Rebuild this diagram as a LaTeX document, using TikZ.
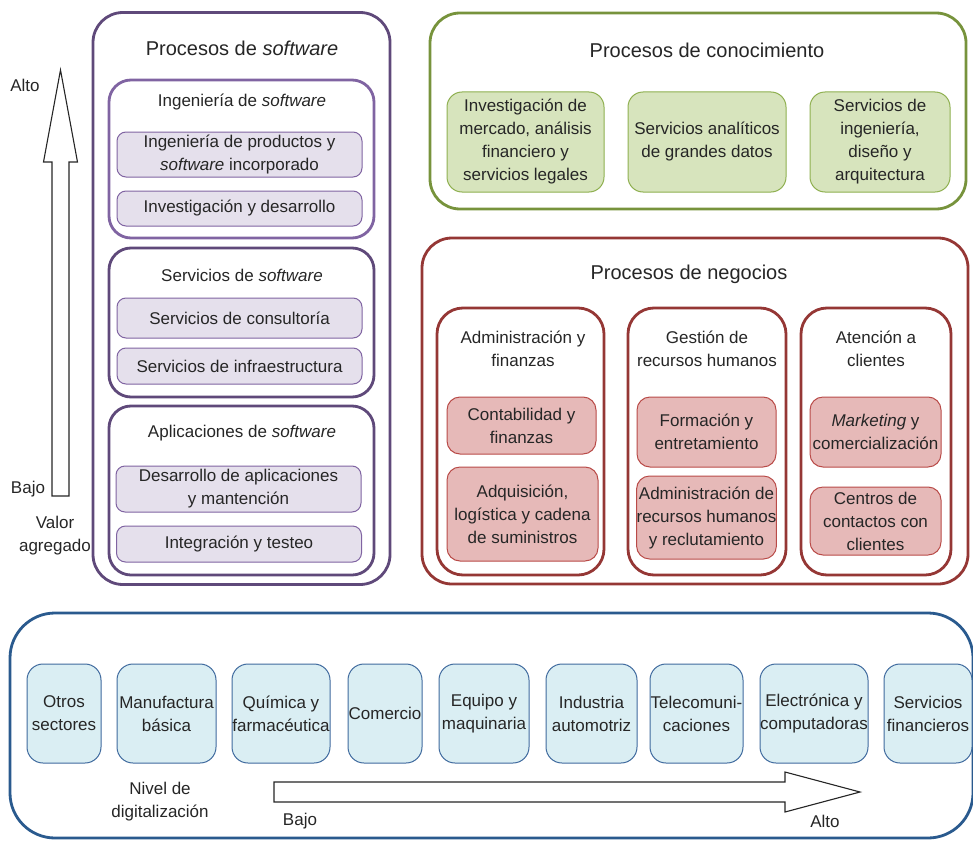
\documentclass[tikz,border=0pt]{standalone}
\usepackage{fontspec}
\setmainfont{Liberation Sans}
\usetikzlibrary{positioning}

\definecolor{swline}{HTML}{5F497A}
\definecolor{swlight}{HTML}{8064A2}
\definecolor{swfill}{HTML}{E5E0EC}
\definecolor{knline}{HTML}{77933C}
\definecolor{knbox}{HTML}{8FB050}
\definecolor{knfill}{HTML}{D7E4BD}
\definecolor{bpline}{HTML}{953735}
\definecolor{bpbox}{HTML}{B94B48}
\definecolor{bpfill}{HTML}{E6B9B8}
\definecolor{secline}{HTML}{2A5A8E}
\definecolor{secbox}{HTML}{3F6A9E}
\definecolor{secfill}{HTML}{DAEEF3}
\definecolor{txt}{HTML}{262626}

\begin{document}
\begin{tikzpicture}[x=1pt, y=-1pt,
    every node/.style={text=txt, font=\fontsize{17}{23}\selectfont, align=center, inner sep=0pt},
    group/.style={draw, line width=2.8pt, rounded corners=30pt, fill=white},
    subgroup/.style={draw, line width=2.8pt, rounded corners=22pt, fill=white},
    item/.style={draw, line width=1pt, rounded corners=9pt},
    switem/.style={item, draw=swlight, fill=swfill, minimum width=245pt},
    knitem/.style={item, draw=knbox, fill=knfill, rounded corners=15pt, minimum height=100pt},
    bpitem/.style={item, draw=bpbox, fill=bpfill, rounded corners=13pt},
    sector/.style={item, draw=secbox, fill=secfill, rounded corners=16pt, minimum height=99pt},
    head/.style={font=\fontsize{20}{24}\selectfont},
    hollow/.style={draw=black!85, line width=1.1pt, fill=white, line join=miter}
]
\useasboundingbox (0,0) rectangle (973,840);
\clip (0,0) rectangle (973,840);

% --- Software processes ---
\node[group, draw=swline, minimum width=297pt, minimum height=572pt] (swgroup) at (241.5, 298.5) {};
\node[head] (swtitle) at (242, 48) {Procesos de \textit{software}};

\node[subgroup, draw=swlight, minimum width=265pt, minimum height=158pt] (ing) at (241.5, 159) {};
\node (ingtitle) at (242, 102) {Ingeniería de \textit{software}};
\node[switem, minimum height=45pt] (prod) at (239.5, 154.5) {Ingeniería de productos y\\\textit{software} incorporado};
\node[switem, minimum height=35pt] (idi) at (239.5, 208.5) {Investigación y desarrollo};

\node[subgroup, draw=swline, minimum width=265pt, minimum height=149pt] (serv) at (241.5, 322.5) {};
\node (servtitle) at (242, 275) {Servicios de \textit{software}};
\node[switem, minimum height=40pt] (cons) at (239.5, 318) {Servicios de consultoría};
\node[switem, minimum height=36pt] (infra) at (239.5, 366) {Servicios de infraestructura};

\node[subgroup, draw=swline, minimum width=265pt, minimum height=169pt] (apl) at (241.5, 490.5) {};
\node (apltitle) at (242, 433) {Aplicaciones de \textit{software}};
\node[switem, minimum height=46pt] (desa) at (238.5, 489) {Desarrollo de aplicaciones\\y mantención};
\node[switem, minimum height=36pt] (integ) at (239, 544) {Integración y testeo};

% value axis
\draw[hollow] (52,496) -- (52,162) -- (43.5,162) -- (60.5,70) -- (77.5,162) -- (69,162) -- (69,496) -- cycle;
\node (valto) at (25, 85) {Alto};
\node (vbajo) at (28, 489) {Bajo};
\node (valor) at (55, 536) {Valor\\agregado};

% --- Knowledge processes ---
\node[group, draw=knline, minimum width=536pt, minimum height=196pt] (kngroup) at (698, 111) {};
\node[head] (kntitle) at (707, 50) {Procesos de conocimiento};
\node[knitem, minimum width=157pt] (mercado) at (525.5, 142) {Investigación de\\mercado, análisis\\financiero y\\servicios legales};
\node[knitem, minimum width=158pt] (datos) at (707, 142) {Servicios analíticos\\de grandes datos};
\node[knitem, minimum width=140pt] (diseno) at (880, 142) {Servicios de\\ingeniería,\\diseño y\\arquitectura};

% --- Business processes ---
\node[group, draw=bpline, minimum width=546pt, minimum height=346pt] (bpgroup) at (695, 411) {};
\node[head] (bptitle) at (689, 274) {Procesos de negocios};

\node[subgroup, draw=bpline, rounded corners=26pt, minimum width=167pt, minimum height=267pt] (adm) at (520.5, 441.5) {};
\node (admtitle) at (523, 348.5) {Administración y\\finanzas};
\node[bpitem, minimum width=149pt, minimum height=57pt] (conta) at (521.5, 425.5) {Contabilidad y\\finanzas};
\node[bpitem, minimum width=151pt, minimum height=94pt] (adq) at (522.5, 514) {Adquisición,\\logística y cadena\\de suministros};

\node[subgroup, draw=bpline, rounded corners=26pt, minimum width=158pt, minimum height=267pt] (rrhh) at (707, 441.5) {};
\node (rrhhtitle) at (707, 348.5) {Gestión de\\recursos humanos};
\node[bpitem, minimum width=139pt, minimum height=70pt] (form) at (706.5, 432) {Formación y\\entretamiento};
\node[bpitem, minimum width=139pt, minimum height=83pt] (recl) at (706.5, 517.5) {Administración de\\recursos humanos\\y reclutamiento};

\node[subgroup, draw=bpline, rounded corners=26pt, minimum width=150pt, minimum height=267pt] (clie) at (876, 441.5) {};
\node (clietitle) at (876, 348.5) {Atención a\\clientes};
\node[bpitem, minimum width=131pt, minimum height=70pt] (mkt) at (875.5, 432) {\textit{Marketing} y\\comercialización};
\node[bpitem, minimum width=131pt, minimum height=68pt] (centros) at (875.5, 521) {Centros de\\contactos con\\clientes};

% --- Sectors ---
\node[group, draw=secline, rounded corners=45pt, minimum width=963pt, minimum height=225pt] (secgroup) at (491.5, 725.5) {};
\node[sector, minimum width=74pt] (otros) at (64, 713.5) {Otros\\sectores};
\node[sector, minimum width=99pt] (manuf) at (166.5, 713.5) {Manufactura\\básica};
\node[sector, minimum width=98pt] (quim) at (281, 713.5) {Química y\\farmacéutica};
\node[sector, minimum width=74pt] (comer) at (385, 713.5) {Comercio};
\node[sector, minimum width=90pt] (equipo) at (484, 713.5) {Equipo y\\maquinaria};
\node[sector, minimum width=91pt] (auto) at (591.5, 713.5) {Industria\\automotriz};
\node[sector, minimum width=93pt] (tele) at (696.5, 713.5) {Telecomuni-\\caciones};
\node[sector, minimum width=108pt] (elec) at (814, 713.5) {Electrónica y\\computadoras};
\node[sector, minimum width=88pt] (finan) at (928, 713.5) {Servicios\\financieros};

% digitalisation axis
\draw[hollow] (274,782) -- (785,782) -- (785,772) -- (860,792) -- (785,812) -- (785,802) -- (274,802) -- cycle;
\node (nivel) at (160, 802) {Nivel de\\digitalización};
\node (dbajo) at (300, 821) {Bajo};
\node (dalto) at (825, 821) {Alto};

\end{tikzpicture}
\end{document}
